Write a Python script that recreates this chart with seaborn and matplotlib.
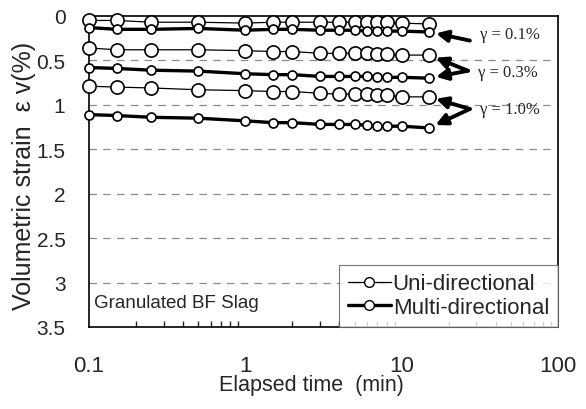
import numpy as np
import pandas as pd
import matplotlib
matplotlib.use("Agg")
import matplotlib.pyplot as plt
from matplotlib.lines import Line2D
from matplotlib import font_manager
import seaborn as sns

# ---- data ----
times = [0.1, 0.15, 0.25, 0.5, 1, 1.5, 2, 3, 4, 5, 6, 7, 8, 10, 15]
uni_01 = [0.05, 0.05, 0.07, 0.07, 0.08, 0.07, 0.07, 0.07, 0.07, 0.07, 0.07, 0.07, 0.07, 0.08, 0.09]
multi_01 = [0.13, 0.15, 0.15, 0.14, 0.16, 0.15, 0.15, 0.16, 0.16, 0.16, 0.17, 0.17, 0.17, 0.17, 0.18]
uni_03 = [0.36, 0.38, 0.38, 0.38, 0.39, 0.40, 0.40, 0.42, 0.42, 0.42, 0.42, 0.43, 0.43, 0.44, 0.44]
multi_03 = [0.58, 0.59, 0.61, 0.62, 0.65, 0.66, 0.66, 0.68, 0.68, 0.68, 0.68, 0.69, 0.69, 0.69, 0.70]
uni_10 = [0.79, 0.80, 0.81, 0.83, 0.84, 0.85, 0.85, 0.87, 0.88, 0.88, 0.88, 0.89, 0.89, 0.91, 0.91]
multi_10 = [1.11, 1.12, 1.14, 1.15, 1.18, 1.20, 1.20, 1.22, 1.22, 1.22, 1.23, 1.24, 1.24, 1.24, 1.26]
gamma_labels = ["γ = 0.1%", "γ = 0.3%", "γ = 1.0%"]
ytick_vals = [0, 0.5, 1, 1.5, 2, 2.5, 3, 3.5]
ytick_labels = ["0", "0.5", "1", "1.5", "2", "2.5", "3", "3.5"]
xtick_vals = [0.1, 1, 10, 100]
xtick_labels = ["0.1", "1", "10", "100"]

sns.set_theme(style="white")
avail = {f.name for f in font_manager.fontManager.ttflist}
sans = "Liberation Sans" if "Liberation Sans" in avail else "DejaVu Sans"
narrow = "Liberation Sans Narrow" if "Liberation Sans Narrow" in avail else None
serif = "Liberation Serif" if "Liberation Serif" in avail else "DejaVu Serif"
plt.rcParams["font.family"] = [sans, "DejaVu Sans"]

fig = plt.figure(figsize=(5.86, 4.10), dpi=100)
ax = fig.add_axes([89/586, 1 - 328/410, (558-89)/586, (328-17)/410])

series = [
    ("uni", uni_01), ("multi", multi_01),
    ("uni", uni_03), ("multi", multi_03),
    ("uni", uni_10), ("multi", multi_10),
]
style = {
    "uni": dict(lw=0.9, ms=9.5, mew=1.2),
    "multi": dict(lw=2.4, ms=6.5, mew=1.2),
}
for kind, vals in series:
    df = pd.DataFrame({"t": times, "e": vals})
    st = style[kind]
    sns.lineplot(data=df, x="t", y="e", ax=ax, color="black", estimator=None,
                 lw=st["lw"], marker="o", markersize=st["ms"],
                 markerfacecolor="white", markeredgecolor="black",
                 markeredgewidth=st["mew"], clip_on=False, zorder=3)

ax.set_xscale("log")
ax.set_xlim(0.1, 100)
ax.set_ylim(3.5, 0)
ax.set_yticks(ytick_vals)
ax.set_yticklabels(ytick_labels)
ax.set_xticks(xtick_vals)
ax.set_xticklabels(xtick_labels)
ax.tick_params(axis="y", length=0, pad=17, labelsize=15)
ax.tick_params(axis="x", which="major", direction="in", length=5, pad=20, labelsize=16)
ax.tick_params(axis="x", which="minor", direction="in", length=4, bottom=True)
for s in ax.spines.values():
    s.set_color("black")
    s.set_linewidth(1.2)

for g in [0.5, 1, 1.5, 2, 2.5, 3]:
    ax.axhline(g, color="#8a8a8a", lw=0.9, ls=(0, (6, 5)), zorder=1)

ax.set_xlabel("Elapsed time  (min)", fontsize=15.5)
ax.xaxis.set_label_coords(0.475, -0.152)
ax.set_ylabel("Volumetric strain  ε v(%)", fontsize=18)
ax.yaxis.set_label_coords(-0.112, 0.49)

if narrow:
    ax.text(0.01, 0.08, "Granulated BF Slag", transform=ax.transAxes,
            fontsize=16, va="center", ha="left", family=narrow)
else:
    ax.text(0.01, 0.08, "Granulated BF Slag", transform=ax.transAxes,
            fontsize=13.5, va="center", ha="left")

handles = [
    Line2D([], [], color="black", lw=0.9, marker="o", ms=7, mfc="white", mec="black"),
    Line2D([], [], color="black", lw=2.4, marker="o", ms=7, mfc="white", mec="black"),
]
leg = ax.legend(handles, ["Uni-directional", "Multi-directional"], loc="lower right",
                bbox_to_anchor=(1.0, 0.0), borderaxespad=0, frameon=True, fancybox=False,
                fontsize=16, handlelength=1.9, handletextpad=0.1, borderpad=0.4,
                labelspacing=0.12, edgecolor="#555555")
leg.get_frame().set_linewidth(0.8)

# annotations
arrow = dict(arrowstyle="-|>", color="black", lw=2.8, mutation_scale=17,
             shrinkA=0, shrinkB=5)
t_end = times[-1]
ax.text(0.834, 0.942, gamma_labels[0], transform=ax.transAxes, fontsize=12,
        family=serif, va="center", ha="left")
ax.annotate("", xy=(t_end, multi_01[-1]), xytext=(0.812, 0.921),
            textcoords="axes fraction", arrowprops=arrow)
ax.text(0.829, 0.820, gamma_labels[1], transform=ax.transAxes, fontsize=12,
        family=serif, va="center", ha="left")
ax.annotate("", xy=(t_end, uni_03[-1]), xytext=(0.808, 0.824),
            textcoords="axes fraction", arrowprops=arrow)
ax.annotate("", xy=(t_end, multi_03[-1]), xytext=(0.808, 0.824),
            textcoords="axes fraction", arrowprops=arrow)
ax.text(0.834, 0.701, gamma_labels[2], transform=ax.transAxes, fontsize=12,
        family=serif, va="center", ha="left")
ax.annotate("", xy=(t_end, uni_10[-1]), xytext=(0.812, 0.701),
            textcoords="axes fraction", arrowprops=arrow)
ax.annotate("", xy=(t_end, multi_10[-1]), xytext=(0.812, 0.701),
            textcoords="axes fraction", arrowprops=arrow)

fig.savefig("out.png", dpi=100)
